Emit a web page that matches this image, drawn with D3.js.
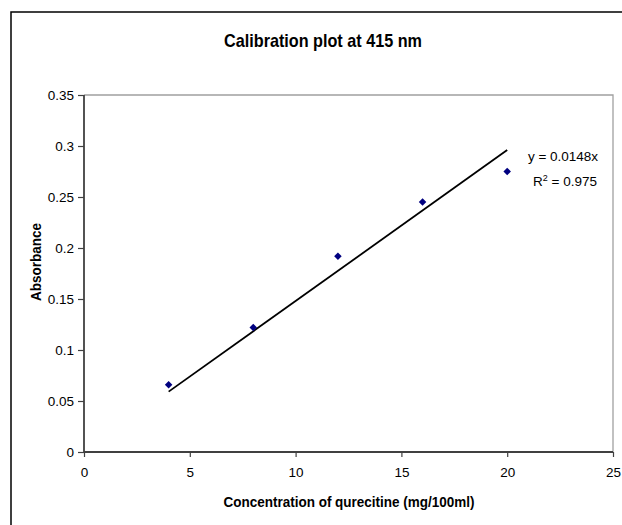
<!DOCTYPE html>
<html>
<head>
<meta charset="utf-8">
<script src="https://d3js.org/d3.v7.min.js"></script>
<style>
	body { margin: 0; background: #fff; }
	svg text { font-family: "Liberation Sans", Arial, sans-serif; fill: #000; }
</style>
</head>
<body>
<svg id="chart" width="622" height="525"></svg>
<script>
// concentration (mg/100ml) and measured absorbance
var concentration = [4, 8, 12, 16, 20];
var absorbance = [0.066, 0.122, 0.192, 0.245, 0.275];
var xTicks = [0, 5, 10, 15, 20, 25];
var yTicks = [0, 0.05, 0.1, 0.15, 0.2, 0.25, 0.3, 0.35];
var slope = 0.0148;
var rSquared = 0.975;

// text squeezed a bit sideways, the way the source chart draws it
function label (svg, x, y, size, str, rotate) {
	return svg.append('text')
		.attr('transform', 'translate(' + x + ',' + y + ')' + (rotate ? ' rotate(-90)' : '') + ' scale(0.9,1)')
		.attr('text-anchor', 'middle')
		.style('font-size', size + 'px').style('font-weight', 'bold')
		.text(str);
}

function Plot (root) {
	var margin = { top: 95, right: 9, bottom: 73, left: 84 },
		width = 622, height = 525,
		svg = d3.select(root);

	var x = d3.scaleLinear().domain([0, 25]).range([margin.left, width - margin.right]),
		y = d3.scaleLinear().domain([0, 0.35]).range([height - margin.bottom, margin.top]);

	// outer chart frame (runs off the right and bottom edge)
	svg.append('rect')
		.attr('x', 11).attr('y', 12)
		.attr('width', 640).attr('height', 540)
		.attr('fill', 'none').attr('stroke', '#000').attr('stroke-width', 1.5);

	label(svg, 323, 47, 18, 'Calibration plot at 415 nm');

	// plot area frame, grey top and right
	svg.append('path')
		.attr('d', 'M' + x(0) + ',' + y(0.35) + 'H' + x(25) + 'V' + y(0))
		.attr('fill', 'none').attr('stroke', '#a0a0a0').attr('stroke-width', 1.3);

	var xAxis = svg.append('g')
		.attr('transform', 'translate(0,' + y(0) + ')')
		.call(d3.axisBottom(x).tickValues(xTicks).tickSize(5).tickPadding(10).tickFormat(d3.format('d')));
	var yAxis = svg.append('g')
		.attr('transform', 'translate(' + x(0) + ',0)')
		.call(d3.axisLeft(y).tickValues(yTicks).tickSize(6).tickPadding(4).tickFormat(function (d) { return d === 0 ? '0' : d3.format('~g')(d); }));

	[xAxis, yAxis].forEach(function (a) {
		a.select('.domain').attr('stroke', '#404040').attr('stroke-width', 1.8);
		a.selectAll('.tick line').attr('stroke', '#404040').attr('stroke-width', 1.2);
		a.selectAll('.tick text').style('font-size', '13.5px').attr('fill', '#000');
	});
	xAxis.select('.domain').attr('d', 'M' + x(0) + ',0H' + x(25));
	yAxis.select('.domain').attr('d', 'M0,' + y(0) + 'V' + y(0.35));

	label(svg, 349, 507, 15, 'Concentration of qurecitine (mg/100ml)');
	label(svg, 41, 262, 15, 'Absorbance', true);

	// linear trendline through the origin, over the data range
	var ext = d3.extent(concentration);
	svg.append('line')
		.attr('x1', x(ext[0])).attr('y1', y(slope * ext[0]))
		.attr('x2', x(ext[1])).attr('y2', y(slope * ext[1]))
		.attr('stroke', '#000').attr('stroke-width', 1.8);

	svg.selectAll('.pt')
		.data(concentration)
		.enter().append('path')
		.attr('class', 'pt')
		.attr('transform', function (d, i) { return 'translate(' + x(d) + ',' + y(absorbance[i]) + ')'; })
		.attr('d', d3.symbol().type(d3.symbolDiamond2).size(36))
		.attr('fill', '#000080');

	svg.append('text')
		.attr('x', 563).attr('y', 161)
		.attr('text-anchor', 'middle')
		.style('font-size', '13.5px')
		.text('y = ' + slope + 'x');
	var r = svg.append('text')
		.attr('x', 565).attr('y', 186)
		.attr('text-anchor', 'middle')
		.style('font-size', '13.5px');
	r.append('tspan').text('R');
	r.append('tspan').attr('dy', -5).style('font-size', '9px').text('2');
	r.append('tspan').attr('dy', 5).text(' = ' + rSquared);
}

Plot('#chart');
</script>
</body>
</html>
